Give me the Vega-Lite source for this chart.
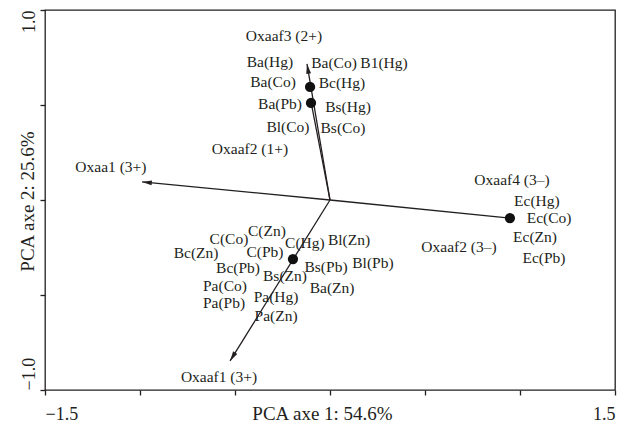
{
  "$schema": "https://vega.github.io/schema/vega-lite/v6.json",
  "width": 570,
  "height": 380,
  "autosize": {"type": "none"},
  "padding": {"left": 45, "top": 10, "right": 4, "bottom": 34},
  "background": "white",
  "config": {
    "view": {"stroke": "#231f20", "strokeWidth": 1.3},
    "font": "Liberation Serif",
    "axis": {"grid": false, "domain": false}
  },
  "datasets": {
    "arrows": [
      {"name": "Oxaaf3 (2+)", "x": -0.121, "y": 0.716},
      {"name": "Oxaaf2 (1+)", "x": -0.100, "y": 0.516},
      {"name": "Oxaa1 (3+)", "x": -0.989, "y": 0.095},
      {"name": "Oxaaf1 (3+)", "x": -0.526, "y": -0.847},
      {"name": "Oxaaf4 (3–)", "x": 0.947, "y": -0.095}
    ],
    "points": [
      {"x": -0.105, "y": 0.595},
      {"x": -0.100, "y": 0.511},
      {"x": -0.195, "y": -0.311},
      {"x": 0.947, "y": -0.095}
    ],
    "labels": [
      {"label": "Oxaaf3 (2+)", "x": -0.242, "y": 0.863},
      {"label": "Ba(Hg)", "x": -0.316, "y": 0.726},
      {"label": "Ba(Co)", "x": -0.300, "y": 0.621},
      {"label": "Ba(Pb)", "x": -0.263, "y": 0.505},
      {"label": "Bl(Co)", "x": -0.221, "y": 0.384},
      {"label": "Oxaaf2 (1+)", "x": -0.421, "y": 0.268},
      {"label": "Oxaa1 (3+)", "x": -1.153, "y": 0.174},
      {"label": "Ba(Co)", "x": 0.021, "y": 0.721},
      {"label": "B1(Hg)", "x": 0.284, "y": 0.721},
      {"label": "Bc(Hg)", "x": 0.063, "y": 0.616},
      {"label": "Bs(Hg)", "x": 0.095, "y": 0.489},
      {"label": "Bs(Co)", "x": 0.068, "y": 0.379},
      {"label": "Oxaaf4 (3–)", "x": 0.958, "y": 0.105},
      {"label": "C(Zn)", "x": -0.332, "y": -0.163},
      {"label": "C(Co)", "x": -0.532, "y": -0.205},
      {"label": "Bc(Zn)", "x": -0.705, "y": -0.279},
      {"label": "C(Pb)", "x": -0.342, "y": -0.274},
      {"label": "C(Hg)", "x": -0.132, "y": -0.226},
      {"label": "Bc(Pb)", "x": -0.484, "y": -0.358},
      {"label": "Bs(Zn)", "x": -0.237, "y": -0.400},
      {"label": "Pa(Co)", "x": -0.553, "y": -0.453},
      {"label": "Pa(Pb)", "x": -0.558, "y": -0.542},
      {"label": "Pa(Hg)", "x": -0.284, "y": -0.511},
      {"label": "Pa(Zn)", "x": -0.284, "y": -0.611},
      {"label": "Oxaaf1 (3+)", "x": -0.584, "y": -0.932},
      {"label": "Bs(Pb)", "x": -0.021, "y": -0.353},
      {"label": "Ba(Zn)", "x": 0.011, "y": -0.463},
      {"label": "Bl(Zn)", "x": 0.100, "y": -0.211},
      {"label": "Bl(Pb)", "x": 0.226, "y": -0.332},
      {"label": "Oxaaf2 (3–)", "x": 0.679, "y": -0.247},
      {"label": "Ec(Hg)", "x": 1.089, "y": -0.005},
      {"label": "Ec(Co)", "x": 1.153, "y": -0.095},
      {"label": "Ec(Zn)", "x": 1.079, "y": -0.195},
      {"label": "Ec(Pb)", "x": 1.126, "y": -0.305}
    ]
  },
  "layer": [
    {
      "data": {"name": "arrows"},
      "mark": {"type": "rule", "color": "#231f20", "strokeWidth": 1.3},
      "encoding": {
        "x": {
          "field": "x", "type": "quantitative",
          "scale": {"domain": [-1.5, 1.5], "nice": false, "zero": false},
          "axis": {
            "title": "PCA axe 1: 54.6%",
            "values": [-1.5, -1, -0.5, 0, 0.5, 1, 1.5],
            "format": ".1f",
            "labelExpr": "abs(datum.value) == 1.5 ? datum.label : ''",
            "labelFlush": true,
            "labelOverlap": false,
            "tickSize": 5, "tickColor": "#231f20", "tickWidth": 1.3,
            "labelFont": "Liberation Serif", "labelFontSize": 18, "labelColor": "#231f20",
            "labelBaseline": "alphabetic", "labelPadding": 24,
            "titleFont": "Liberation Serif", "titleFontSize": 19, "titleFontWeight": "normal",
            "titleColor": "#231f20", "titleBaseline": "alphabetic",
            "titleX": 277, "titleY": 29
          }
        },
        "y": {
          "field": "y", "type": "quantitative",
          "scale": {"domain": [-1, 1], "nice": false, "zero": false},
          "axis": {
            "title": "PCA axe 2: 25.6%",
            "values": [-1, -0.5, 0, 0.5, 1],
            "format": ".1f",
            "labelExpr": "abs(datum.value) == 1 ? datum.label : ''",
            "labelOverlap": false,
            "labelAngle": 270,
            "labelAlign": {"condition": {"test": "datum.value > 0", "value": "right"}, "value": "left"},
            "labelBaseline": "alphabetic", "labelPadding": 6,
            "tickSize": 5, "tickColor": "#231f20", "tickWidth": 1.3,
            "labelFont": "Liberation Serif", "labelFontSize": 18, "labelColor": "#231f20",
            "titleFont": "Liberation Serif", "titleFontSize": 19, "titleFontWeight": "normal",
            "titleColor": "#231f20", "titleBaseline": "alphabetic", "titleAngle": 270,
            "titleAlign": "center", "titleX": -12, "titleY": 191
          }
        },
        "x2": {"datum": 0},
        "y2": {"datum": 0}
      }
    },
    {
      "mark": {"type": "rule", "color": "#231f20", "strokeWidth": 1.3},
      "encoding": {
        "x": {"datum": 0, "type": "quantitative", "scale": {"domain": [-1.5, 1.5], "nice": false, "zero": false}, "title": "PCA axe 1: 54.6%"}
      }
    },
    {
      "mark": {"type": "rule", "color": "#231f20", "strokeWidth": 1.3},
      "encoding": {
        "y": {"datum": 0, "type": "quantitative", "scale": {"domain": [-1, 1], "nice": false, "zero": false}, "title": "PCA axe 2: 25.6%"}
      }
    },
    {
      "data": {"name": "arrows"},
      "transform": [
        {"filter": {"field": "name", "oneOf": ["Oxaaf3 (2+)", "Oxaa1 (3+)", "Oxaaf1 (3+)"]}},
        {"calculate": "atan2(datum.x, datum.y) * 180 / PI", "as": "dir"}
      ],
      "mark": {"type": "point", "shape": "M0,0L-0.25,1L0.25,1Z", "filled": true, "color": "#231f20", "opacity": 1, "size": 380, "strokeWidth": 0},
      "encoding": {
        "x": {"field": "x", "type": "quantitative", "scale": {"domain": [-1.5, 1.5], "nice": false, "zero": false}, "title": "PCA axe 1: 54.6%"},
        "y": {"field": "y", "type": "quantitative", "scale": {"domain": [-1, 1], "nice": false, "zero": false}, "title": "PCA axe 2: 25.6%"},
        "angle": {"field": "dir", "type": "quantitative", "scale": null}
      }
    },
    {
      "data": {"name": "points"},
      "mark": {"type": "circle", "color": "#111111", "opacity": 1, "size": 105},
      "encoding": {
        "x": {"field": "x", "type": "quantitative", "scale": {"domain": [-1.5, 1.5], "nice": false, "zero": false}, "title": "PCA axe 1: 54.6%"},
        "y": {"field": "y", "type": "quantitative", "scale": {"domain": [-1, 1], "nice": false, "zero": false}, "title": "PCA axe 2: 25.6%"}
      }
    },
    {
      "data": {"name": "labels"},
      "mark": {"type": "text", "font": "Liberation Serif", "fontSize": 15.5, "color": "#231f20", "align": "center", "baseline": "middle"},
      "encoding": {
        "x": {"field": "x", "type": "quantitative", "scale": {"domain": [-1.5, 1.5], "nice": false, "zero": false}, "title": "PCA axe 1: 54.6%"},
        "y": {"field": "y", "type": "quantitative", "scale": {"domain": [-1, 1], "nice": false, "zero": false}, "title": "PCA axe 2: 25.6%"},
        "text": {"field": "label", "type": "nominal"}
      }
    }
  ]
}
